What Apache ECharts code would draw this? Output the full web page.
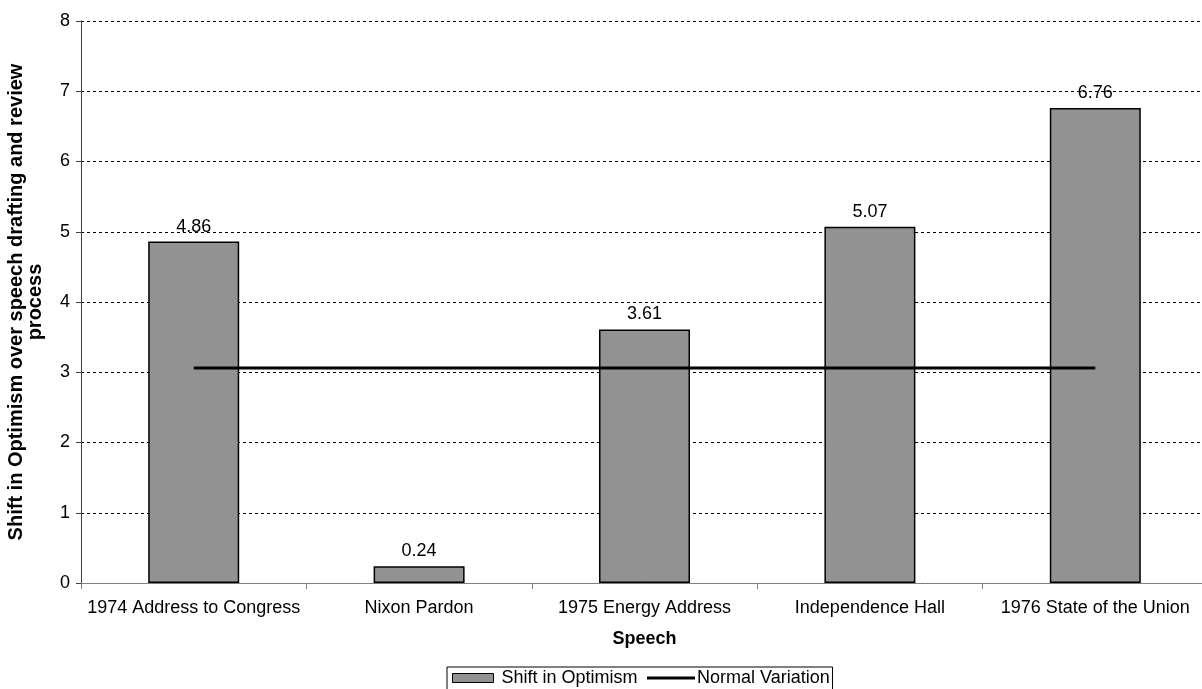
<!DOCTYPE html>
<html><head><meta charset="utf-8">
<script src="https://cdn.jsdelivr.net/npm/echarts@6/dist/echarts.min.js"></script>
<style>html,body{margin:0;padding:0;background:#fff}#c{width:1202px;height:689px}</style>
</head><body><div id="c"></div>
<script>
const categories = ['1974 Address to Congress','Nixon Pardon','1975 Energy Address','Independence Hall','1976 State of the Union'];
const shiftValues = [4.86, 0.24, 3.61, 5.07, 6.76];
const normalVariation = [3.06, 3.06, 3.06, 3.06, 3.06];
const yTicks = [0, 1, 2, 3, 4, 5, 6, 7, 8];

const FONT = 'Liberation Sans, Arial, sans-serif';
const chart = echarts.init(document.getElementById('c'), null, {renderer: 'canvas'});
chart.setOption({
  animation: false,
  backgroundColor: '#fff',
  textStyle: {fontFamily: FONT},
  grid: {left: 81, top: 21, width: 1127, height: 562, containLabel: false, outerBoundsMode: 'none'},
  legend: [
    {
      top: 667, left: 447,
      data: [{name: 'Shift in Optimism', icon: 'rect'}],
      itemWidth: 41, itemHeight: 9,
      itemStyle: {borderColor: '#000', borderWidth: 1},
      borderColor: '#000', borderWidth: 1, padding: [2, 195, 6, 5],
      textStyle: {fontFamily: FONT, fontSize: 18, color: '#000', padding: [0, 0, 0, 3]}
    },
    {
      top: 667, left: 647,
      data: [{name: 'Normal Variation', icon: 'rect'}],
      itemWidth: 48, itemHeight: 3,
      padding: [2, 0, 6, 0],
      textStyle: {fontFamily: FONT, fontSize: 18, color: '#000', padding: [0, 0, 0, -3]}
    }
  ],
  xAxis: {
    type: 'category', data: categories,
    name: 'Speech', nameLocation: 'middle', nameGap: 47,
    nameTextStyle: {fontFamily: FONT, fontSize: 18, fontWeight: 'bold', color: '#000'},
    axisLine: {lineStyle: {color: '#808080', width: 1}},
    axisTick: {show: true, alignWithLabel: false, length: 6, lineStyle: {color: '#808080'}},
    axisLabel: {fontFamily: FONT, fontSize: 18, color: '#000', margin: 16, interval: 0},
    splitLine: {show: false}
  },
  yAxis: {
    type: 'value', min: 0, max: 8, interval: 1,
    name: 'Shift in Optimism over speech drafting and review\nprocess',
    nameLocation: 'middle', nameGap: 36, nameRotate: 90,
    nameTextStyle: {fontFamily: FONT, fontSize: 20, fontWeight: 'bold', color: '#000', lineHeight: 19},
    axisLine: {show: true, lineStyle: {color: '#404040', width: 1}},
    axisTick: {show: true, length: 5, lineStyle: {color: '#404040'}},
    axisLabel: {fontFamily: FONT, fontSize: 18, color: '#000', margin: 11,
      formatter: v => yTicks.includes(v) ? String(v) : ''},
    splitLine: {show: true, lineStyle: {color: '#000', type: [3, 3], width: 1}}
  },
  series: [
    {
      name: 'Shift in Optimism', type: 'bar', data: shiftValues, barWidth: 91,
      itemStyle: {color: '#929292', borderColor: '#000', borderWidth: 1.5},
      label: {show: true, position: 'top', distance: 6, fontFamily: FONT, fontSize: 18, color: '#000',
        formatter: p => p.value.toFixed(2)},
      z: 2
    },
    {
      name: 'Normal Variation', type: 'line', data: normalVariation,
      symbol: 'none', showSymbol: false,
      lineStyle: {color: '#000', width: 3},
      itemStyle: {color: '#000'},
      z: 3
    }
  ]
});
</script></body></html>
